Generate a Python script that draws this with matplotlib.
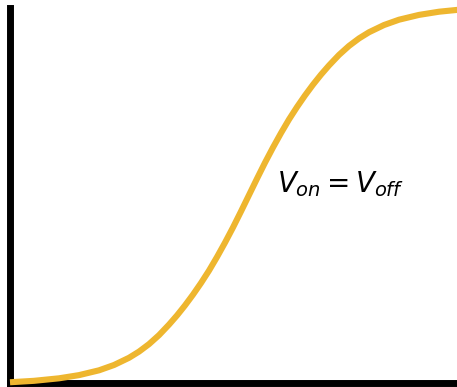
import matplotlib
matplotlib.use("Agg")
import matplotlib.pyplot as plt

# points (time 0-100, voltage 0-100)
t = [0, 5.37, 10.96, 15.44, 19.91, 23.27, 26.62, 28.86, 31.10, 33.34,
     35.57, 37.36, 39.15, 40.94, 42.73, 44.52, 46.31, 48.10, 49.89, 51.68,
     53.47, 55.26, 57.05, 58.84, 60.63, 62.42, 64.21, 66.00, 67.79, 69.58,
     71.37, 73.60, 75.84, 78.08, 80.32, 83.67, 87.03, 91.50, 95.98, 101.57]
v = [0.2, 0.58, 1.25, 2.10, 3.38, 4.80, 6.72, 8.37, 10.37, 12.77,
     15.57, 18.02, 20.69, 23.57, 26.66, 29.97, 33.60, 37.44, 41.49, 45.76,
     50.13, 54.50, 58.77, 62.82, 66.66, 70.29, 73.60, 76.69, 79.57, 82.24,
     84.69, 87.49, 89.89, 91.89, 93.54, 95.46, 96.88, 98.16, 99.01, 99.68]
label = r"$V_{on} = V_{off}$"

plt.rcParams['mathtext.fontset'] = 'dejavusans'

fig = plt.figure(figsize=(4.57, 3.87), dpi=100)
ax = fig.add_axes([10 / 457, 4 / 387, 447 / 457, 375 / 387])

ax.plot(t, v, color='#EEB62F', linewidth=4.4, solid_capstyle='butt',
        solid_joinstyle='round', clip_on=False, zorder=3)
ax.text(59.7, 51.0, label, fontsize=20, ha='left', va='baseline')

ax.set_xlim(0, 100)
ax.set_ylim(0, 100)
for side in ['top', 'right']:
    ax.spines[side].set_visible(False)
for side in ['left', 'bottom']:
    ax.spines[side].set_linewidth(5)
    ax.spines[side].set_color('black')
ax.set_xticks([])
ax.set_yticks([])

fig.savefig('out.png', dpi=100)
